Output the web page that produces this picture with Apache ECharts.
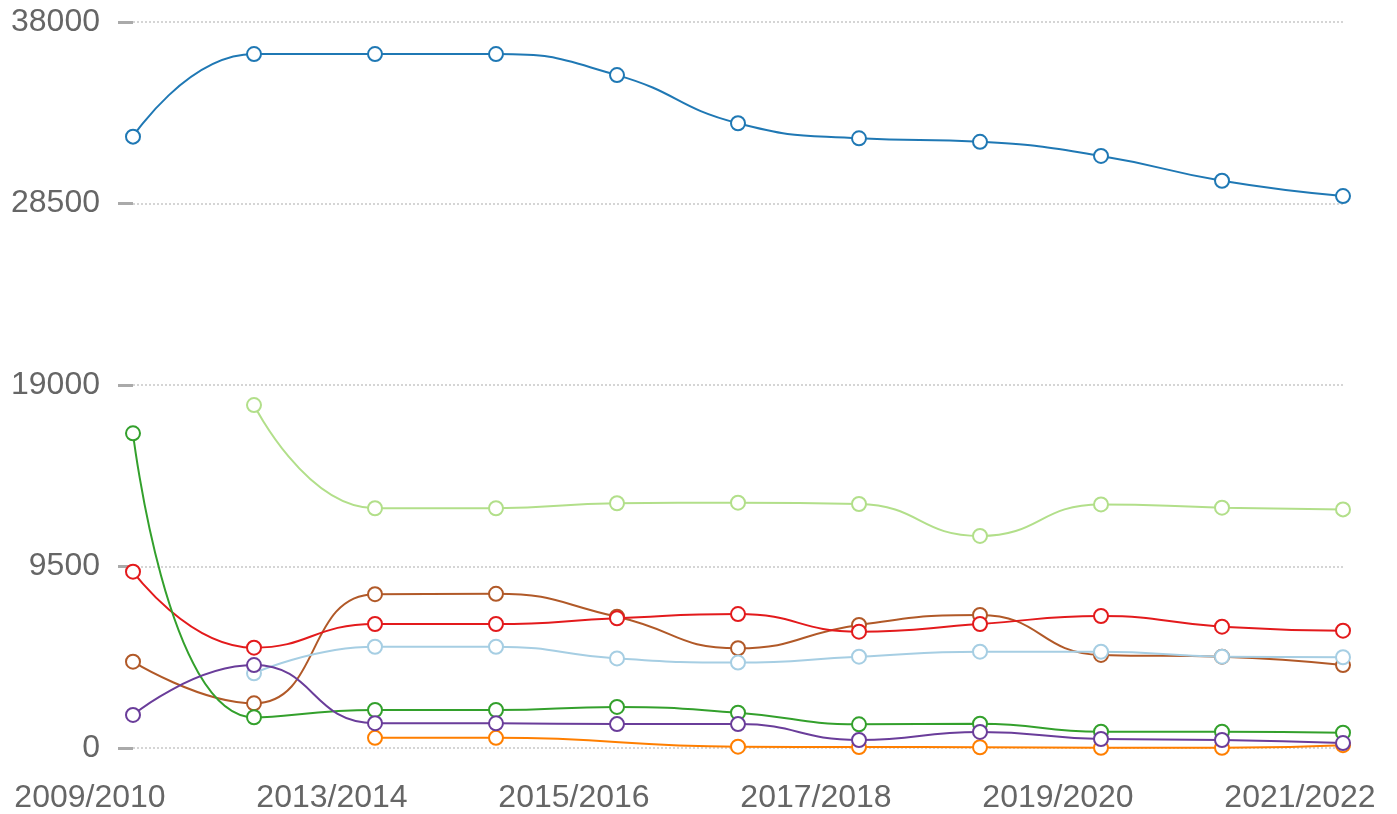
<!DOCTYPE html>
<html>
<head>
<meta charset="utf-8">
<script src="https://cdn.jsdelivr.net/npm/echarts@6/dist/echarts.min.js"></script>
<style>
  html, body { margin: 0; padding: 0; background: #fff; }
  #chart { width: 1397px; height: 814px; }
</style>
</head>
<body>
<div id="chart"></div>
<script>
const years = ['2009/2010', '2012/2013', '2013/2014', '2014/2015', '2015/2016', '2016/2017',
  '2017/2018', '2018/2019', '2019/2020', '2020/2021', '2021/2022']
const yTicks = [0, 9500, 19000, 28500, 38000]

const blueData = [32000, 36320, 36320, 36320, 35220, 32700, 31910, 31730, 30990, 29690, 28890]
const lightGreenData = [null, 17950, 12550, 12550, 12810, 12840, 12770, 11100, 12750, 12580, 12490]
const greenData = [16470, 1610, 1990, 1990, 2150, 1850, 1240, 1270, 850, 850, 800]
const redData = [9230, 5250, 6490, 6490, 6790, 7010, 6090, 6490, 6910, 6350, 6140]
const brownData = [4520, 2340, 8050, 8070, 6870, 5220, 6440, 6960, 4870, 4780, 4340]
const lightBlueData = [null, 3910, 5300, 5300, 4690, 4470, 4780, 5040, 5040, 4780, 4750]
const purpleData = [1730, 4340, 1300, 1290, 1250, 1250, 420, 840, 470, 420, 260]
const orangeData = [null, null, 530, 530, null, 70, 50, 40, 10, 10, 150]

const seriesList = [
  { name: 'blue', data: blueData, color: '#1f78b4' },
  { name: 'lightgreen', data: lightGreenData, color: '#b2df8a' },
  { name: 'orange', data: orangeData, color: '#ff7f00' },
  { name: 'brown', data: brownData, color: '#b15928' },
  { name: 'red', data: redData, color: '#e31a1c' },
  { name: 'lightblue', data: lightBlueData, color: '#a6cee3' },
  { name: 'green', data: greenData, color: '#33a02c' },
  { name: 'purple', data: purpleData, color: '#6a3d9a' }
]

const font = 'Liberation Sans, Arial, sans-serif'

const myChart = echarts.init(document.getElementById('chart'))

const option = {
  animation: false,
  grid: { left: 133, right: 54, top: 22, bottom: 66, containLabel: false },
  xAxis: {
    type: 'category',
    boundaryGap: false,
    data: years,
    axisLine: { show: false },
    axisTick: { show: false },
    splitLine: { show: false },
    axisLabel: {
      interval: 1,
      margin: 34,
      fontSize: 32,
      fontFamily: font,
      color: '#666',
      padding: [0, 86, 0, 0]
    }
  },
  yAxis: {
    type: 'value',
    min: yTicks[0],
    max: yTicks[yTicks.length - 1],
    interval: 9500,
    axisLine: { show: false },
    axisTick: {
      show: true,
      length: 15,
      lineStyle: { color: '#aaa', width: 3 }
    },
    axisLabel: {
      margin: 33,
      fontSize: 32,
      fontFamily: font,
      color: '#666',
      formatter: v => String(v)
    },
    splitLine: {
      show: true,
      lineStyle: { color: '#c8c8c8', type: [2, 2], width: 1.5 }
    }
  },
  series: seriesList.map(s => ({
    name: s.name,
    type: 'line',
    data: s.data,
    smooth: true,
    connectNulls: true,
    symbol: 'emptyCircle',
    symbolSize: 14,
    showAllSymbol: true,
    lineStyle: { color: s.color, width: 2 },
    itemStyle: { color: s.color, borderColor: s.color, borderWidth: 2 }
  }))
}

myChart.setOption(option)
</script>
</body>
</html>
